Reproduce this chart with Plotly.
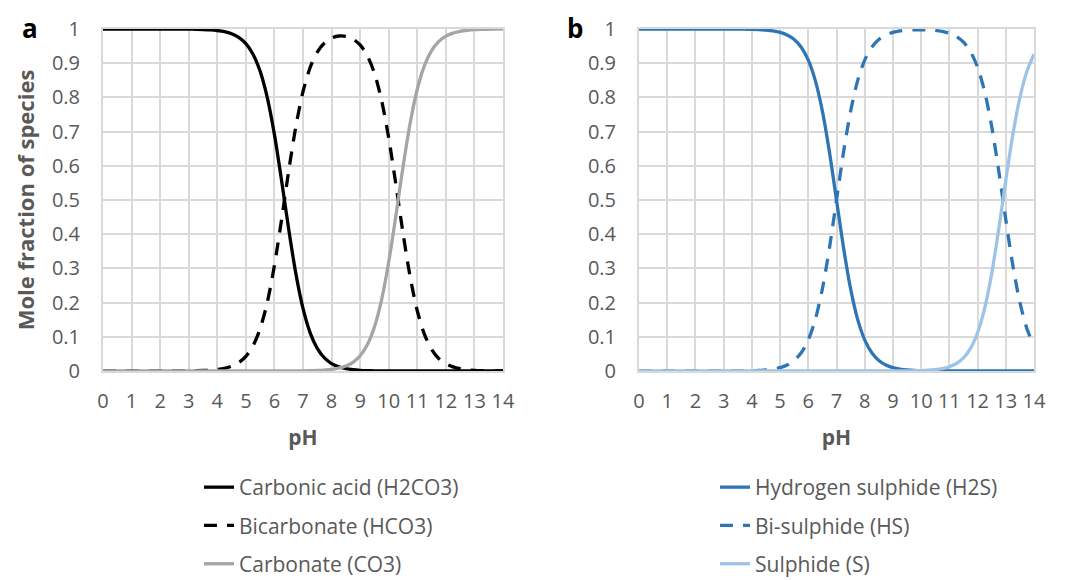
import plotly.graph_objects as go

ph = [0, 0.25, 0.5, 0.75, 1, 1.25, 1.5, 1.75, 2, 2.25, 2.5, 2.75, 3, 3.25, 3.5, 3.75,
      4, 4.25, 4.5, 4.75, 5, 5.25, 5.5, 5.75, 6, 6.25, 6.5, 6.75, 7, 7.25, 7.5, 7.75,
      8, 8.25, 8.5, 8.75, 9, 9.25, 9.5, 9.75, 10, 10.25, 10.5, 10.75, 11, 11.25, 11.5, 11.75,
      12, 12.25, 12.5, 12.75, 13, 13.25, 13.5, 13.75, 14]

h2co3 = [1, 1, 1, 1, 1, 1, 1, 1, 1, 1, 1, 1,
         0.9996, 0.9992, 0.9986, 0.9975, 0.9955, 0.9921, 0.9861, 0.9755, 0.9572, 0.9264,
         0.8762, 0.7992, 0.6912, 0.5573, 0.4145, 0.2847, 0.1829, 0.1117, 0.0660, 0.0382,
         0.0218, 0.0123, 0.0069, 0.0039, 0.0021, 0.0012, 0.0006, 0.0003, 0.0002, 0.0001,
         0, 0, 0, 0, 0, 0, 0, 0, 0, 0, 0, 0, 0, 0, 0]
hco3 = [0, 0, 0, 0, 0, 0, 0, 0, 0, 0, 0.0001, 0.0003,
        0.0004, 0.0008, 0.0014, 0.0025, 0.0045, 0.0079, 0.0139, 0.0245, 0.0428, 0.0736,
        0.1238, 0.2008, 0.3088, 0.4427, 0.5854, 0.7151, 0.8168, 0.8875, 0.9326, 0.9592,
        0.9737, 0.9795, 0.9786, 0.9706, 0.9533, 0.9221, 0.8706, 0.7915, 0.6813, 0.5459,
        0.4034, 0.2755, 0.1761, 0.1073, 0.0633, 0.0366, 0.0209, 0.0119, 0.0067, 0.0038,
        0.0021, 0.0012, 0.0007, 0.0004, 0.0002]
co3 = [0, 0, 0, 0, 0, 0, 0, 0, 0, 0, 0, 0, 0, 0, 0, 0, 0, 0, 0, 0, 0, 0, 0, 0, 0, 0,
       0.0001, 0.0002, 0.0004, 0.0007, 0.0014, 0.0025, 0.0046, 0.0081, 0.0145, 0.0255,
       0.0446, 0.0767, 0.1288, 0.2082, 0.3186, 0.4541, 0.5966, 0.7245, 0.8239, 0.8927,
       0.9367, 0.9634, 0.9791, 0.9881, 0.9933, 0.9962, 0.9979, 0.9988, 0.9993, 0.9996, 0.9998]

h2s = [1, 1, 1, 1, 1, 1, 1, 1, 1, 1, 1, 1, 1, 1,
       0.9997, 0.9994, 0.9990, 0.9982, 0.9968, 0.9944, 0.9901, 0.9825, 0.9693, 0.9468,
       0.9091, 0.8490, 0.7597, 0.6400, 0.5000, 0.3600, 0.2403, 0.1510, 0.0909, 0.0532,
       0.0307, 0.0175, 0.0099, 0.0056, 0.0032, 0.0018, 0.0010, 0.0006, 0.0003, 0.0002, 0.0001,
       0, 0, 0, 0, 0, 0, 0, 0, 0, 0, 0, 0]
hs = [0, 0, 0, 0, 0, 0, 0, 0, 0, 0, 0, 0,
      0.0001, 0.0002, 0.0003, 0.0006, 0.0010, 0.0018, 0.0032, 0.0056, 0.0099, 0.0175,
      0.0307, 0.0532, 0.0909, 0.1510, 0.2403, 0.3600, 0.5000, 0.6400, 0.7597, 0.8490,
      0.9091, 0.9468, 0.9692, 0.9824, 0.9900, 0.9942, 0.9964, 0.9975, 0.9977, 0.9972,
      0.9957, 0.9928, 0.9875, 0.9781, 0.9617, 0.9339, 0.8882, 0.8171, 0.7153, 0.5855,
      0.4427, 0.3087, 0.2008, 0.1238, 0.0736]
s = [0, 0, 0, 0, 0, 0, 0, 0, 0, 0, 0, 0, 0, 0, 0, 0, 0, 0, 0, 0, 0, 0, 0, 0, 0, 0,
     0, 0, 0, 0, 0, 0, 0, 0, 0,
     0.0001, 0.0001, 0.0002, 0.0004, 0.0007, 0.0013, 0.0022, 0.0040, 0.0070, 0.0124,
     0.0219, 0.0383, 0.0661, 0.1118, 0.1829, 0.2847, 0.4145, 0.5573, 0.6913, 0.7992,
     0.8762, 0.9264]

names_a = ["Carbonic acid (H2CO3)", "Bicarbonate (HCO3)", "Carbonate (CO3)"]
names_b = ["Hydrogen sulphide (H2S)", "Bi-sulphide (HS)", "Sulphide (S)"]
x_ticks = list(range(0, 15))
y_ticks = [0, 0.1, 0.2, 0.3, 0.4, 0.5, 0.6, 0.7, 0.8, 0.9, 1]
y_tick_text = ["0", "0.1", "0.2", "0.3", "0.4", "0.5", "0.6", "0.7", "0.8", "0.9", "1"]

FONT = "Open Sans"
TXT = "#595959"
GRID = "#d9d9d9"
DASH = "13px,10px"
LW = 3.3

fig = go.Figure()

series_a = [(h2co3, "#000000", "solid"), (hco3, "#000000", DASH), (co3, "#a5a5a5", "solid")]
series_b = [(h2s, "#2e75b6", "solid"), (hs, "#2e75b6", DASH), (s, "#9dc3e6", "solid")]

for i, (vals, col, dash) in enumerate(series_a):
    fig.add_trace(go.Scatter(x=ph, y=vals, name=names_a[i], mode="lines",
                             line=dict(color=col, width=LW, dash=dash, shape="spline", smoothing=0.8),
                             xaxis="x", yaxis="y", legend="legend", legendgroup="a%d" % i))
for i, (vals, col, dash) in enumerate(series_b):
    fig.add_trace(go.Scatter(x=ph, y=vals, name=names_b[i], mode="lines",
                             line=dict(color=col, width=LW, dash=dash, shape="spline", smoothing=0.8),
                             xaxis="x2", yaxis="y2", legend="legend2", legendgroup="b%d" % i))

W, H = 1068, 580
xa = dict(range=[0, 14], tickvals=x_ticks, showgrid=True, gridcolor=GRID, gridwidth=2,
          showline=True, linecolor=GRID, linewidth=2, mirror=True, zeroline=False,
          ticks="outside", ticklen=11, tickcolor="rgba(0,0,0,0)", automargin=False,
          tickfont=dict(family=FONT, size=20, color=TXT),
          title=dict(text="<b>pH</b>", font=dict(family=FONT, size=21, color=TXT), standoff=17),
          fixedrange=True)
ya = dict(range=[0, 1], tickvals=y_ticks, ticktext=y_tick_text, showgrid=True, gridcolor=GRID,
          gridwidth=2, showline=True, linecolor=GRID, linewidth=2, mirror=True, zeroline=False,
          ticks="outside", ticklen=17, tickcolor="rgba(0,0,0,0)", automargin=False,
          tickfont=dict(family=FONT, size=20, color=TXT), fixedrange=True)

y_dom = [(H - 371) / H, (H - 29) / H]
fig.update_layout(
    width=W, height=H,
    margin=dict(l=0, r=0, t=0, b=0, autoexpand=False),
    paper_bgcolor="white", plot_bgcolor="white",
    xaxis=dict(xa, domain=[103 / W, 503 / W], anchor="y"),
    yaxis=dict(ya, domain=y_dom, anchor="x",
               title=dict(text="<b>Mole fraction of species</b>",
                          font=dict(family=FONT, size=22, color=TXT), standoff=11)),
    xaxis2=dict(xa, domain=[639 / W, 1034 / W], anchor="y2"),
    yaxis2=dict(ya, domain=y_dom, anchor="x2"),
    legend=dict(x=199 / W, y=(H - 467) / H, xanchor="left", yanchor="top",
                font=dict(family=FONT, size=21, color=TXT), tracegroupgap=8,
                bgcolor="rgba(0,0,0,0)"),
    legend2=dict(x=715 / W, y=(H - 467) / H, xanchor="left", yanchor="top",
                 font=dict(family=FONT, size=21, color=TXT), tracegroupgap=8,
                 bgcolor="rgba(0,0,0,0)"),
    showlegend=True,
    annotations=[
        dict(text="<b>a</b>", x=30 / W, y=(H - 28) / H, xref="paper", yref="paper",
             xanchor="center", yanchor="middle",
             showarrow=False, font=dict(family=FONT, size=26, color="#000000")),
        dict(text="<b>b</b>", x=575 / W, y=(H - 28) / H, xref="paper", yref="paper",
             xanchor="center", yanchor="middle",
             showarrow=False, font=dict(family=FONT, size=26, color="#000000")),
    ],
)

fig.write_html("out.html")
